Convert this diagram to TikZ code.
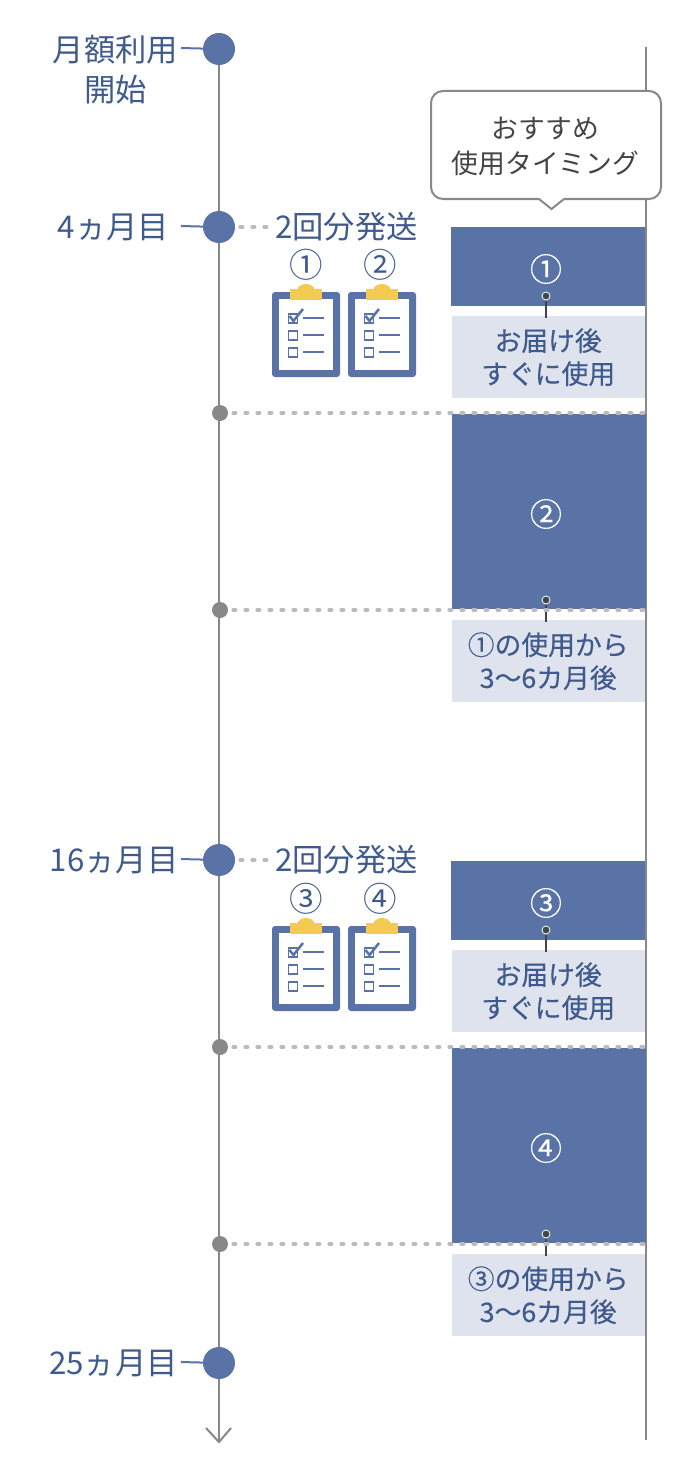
\documentclass[tikz,border=0pt]{standalone}
\usepackage{fontspec}
\setmainfont{Noto Sans CJK JP}
\newfontfamily\notefont{Noto Sans CJK JP}[FakeBold=0.3]
\definecolor{slateblue}{RGB}{90, 115, 166}
\definecolor{inkblue}{RGB}{63, 90, 140}
\definecolor{paleblue}{RGB}{223, 227, 238}
\definecolor{railgray}{RGB}{136, 136, 136}
\definecolor{dotgray}{RGB}{187, 187, 187}
\definecolor{darkgray}{RGB}{68, 68, 68}
\definecolor{clipyellow}{RGB}{243, 203, 80}
\tikzset{
    rail/.style={draw=railgray, line width=2pt},
    mainevent/.style={circle, fill=slateblue, minimum size=32pt, inner sep=0pt},
    subevent/.style={circle, fill=railgray, minimum size=16pt, inner sep=0pt},
    eventlabel/.style={inner sep=0pt, text=inkblue, align=center, font=\fontsize{31.3}{40}\selectfont},
    eventtick/.style={draw=slateblue, line width=2pt},
    dotline/.style={draw=dotgray, line width=3.5pt, line cap=round, dash pattern=on 2.5pt off 9.5pt},
    useblock/.style={fill=slateblue, inner sep=0pt, minimum width=194pt, anchor=north west},
    notebox/.style={fill=paleblue, inner sep=0pt, minimum width=193pt, minimum height=82pt, anchor=north west, text=inkblue, align=center, font=\notefont\fontsize{26.8}{33}\selectfont},
    usenum/.style={inner sep=0pt, text=white, font=\notefont\fontsize{32}{32}\selectfont},
    boxnum/.style={inner sep=0pt, text=inkblue, font=\fontsize{33.5}{34}\selectfont},
    pindot/.style={circle, fill=darkgray, draw=paleblue, line width=1pt, minimum size=8pt, inner sep=0pt},
    pinline/.style={draw=darkgray, line width=2pt},
    tickline/.style={draw=slateblue, line width=1.4pt},
    calloutbox/.style={draw=railgray, fill=white, line width=2pt, rounded corners=12pt, inner sep=0pt, minimum width=230pt, minimum height=108pt}
}
\begin{document}
\begin{tikzpicture}[x=1pt, y=-1pt]
    \useasboundingbox (0,0) rectangle (690,1474);
    % Rails
    \coordinate (railtop) at (646,47);
    \coordinate (railend) at (646,1440);
    \coordinate (timetop) at (219,49);
    \coordinate (timeend) at (219,1442);
    \draw[rail] (railtop) -- (railend);
    \draw[rail] (timetop) -- (timeend);
    \draw[rail] (206,1428) -- (timeend) -- (231,1428);
    % Main events
    \node[mainevent] (start) at (219,49) {};
    \node[mainevent] (month4) at (219,227) {};
    \node[mainevent] (month16) at (219,860) {};
    \node[mainevent] (month25) at (219,1363) {};
    \node[eventlabel] (startlabel) at (115.5,69.5) {月額利用\\開始};
    \node[eventlabel] (month4label) at (113.5,227) {4ヵ月目};
    \node[eventlabel] (month16label) at (114,860) {16ヵ月目};
    \node[eventlabel] (month25label) at (113.5,1363) {25ヵ月目};
    \coordinate (starttick) at (181,48);
    \coordinate (month4tick) at (181,226);
    \coordinate (month16tick) at (181,859);
    \coordinate (month25tick) at (181,1362);
    \draw[eventtick] (starttick) -- (start);
    \draw[eventtick] (month4tick) -- (month4);
    \draw[eventtick] (month16tick) -- (month16);
    \draw[eventtick] (month25tick) -- (month25);
    % Shipments
    \node[eventlabel] (shipa) at (346.5,227) {2回分発送};
    \node[eventlabel] (shipb) at (346.5,860) {2回分発送};
    \coordinate (shipaend) at (270,227);
    \coordinate (shipbend) at (270,860);
    \draw[dotline] (month4.east) ++(5,0) -- (shipaend);
    \draw[dotline] (month16.east) ++(5,0) -- (shipbend);
    \node[boxnum] (boxa) at (306,265) {①};
    \node[boxnum] (boxb) at (380,265) {②};
    \node[boxnum] (boxc) at (306,899) {③};
    \node[boxnum] (boxd) at (380,899) {④};
    % Clipboards
    \foreach \cx/\cy in {272/292, 348/292, 272/926, 348/926} {
        \begin{scope}[shift={(\cx,\cy)}]
            \fill[slateblue, rounded corners=3pt] (0,0) rectangle (68,85);
            \fill[white] (7,7) rectangle (61,78);
            \fill[clipyellow] (18,-3) rectangle (50,8);
            \fill[clipyellow] (25,-2) .. controls (27,-10) and (41,-10) .. (43,-2);
            \draw[slateblue, line width=1.8pt] (16.5,22) rectangle (25.5,31);
            \draw[slateblue, line width=1.8pt] (16.5,39) rectangle (25.5,48);
            \draw[slateblue, line width=1.8pt] (16.5,56) rectangle (25.5,65);
            \draw[slateblue, line width=2.5pt] (17.5,24) -- (21.5,29) -- (31,17);
            \draw[tickline] (31,26) -- (52,26);
            \draw[tickline] (31,43) -- (52,43);
            \draw[tickline] (31,60) -- (52,60);
        \end{scope}
    }
    % Use blocks
    \node[useblock, minimum height=79pt] (blocka) at (451,227) {};
    \node[useblock, minimum height=195pt] (blockb) at (451.5,414) {};
    \node[useblock, minimum height=79pt] (blockc) at (451,861) {};
    \node[useblock, minimum height=195pt] (blockd) at (451.5,1048) {};
    \node[usenum] (numa) at (546,269) {①};
    \node[usenum] (numb) at (546,514) {②};
    \node[usenum] (numc) at (546,903) {③};
    \node[usenum] (numd) at (546,1148) {④};
    \node[notebox] (notea) at (451.5,316) {\rule{0pt}{5pt}お届け後\\すぐに使用};
    \node[notebox] (noteb) at (451.5,620) {\rule{0pt}{5pt}①の使用から\\3〜6カ月後};
    \node[notebox] (notec) at (451.5,950) {\rule{0pt}{5pt}お届け後\\すぐに使用};
    \node[notebox] (noted) at (451.5,1254) {\rule{0pt}{5pt}③の使用から\\3〜6カ月後};
    % Pins
    \node[pindot] (pina) at (546,296) {};
    \node[pindot] (pinb) at (546,600) {};
    \node[pindot] (pinc) at (546,930) {};
    \node[pindot] (pind) at (546,1234) {};
    \coordinate (pinaend) at (546,318);
    \coordinate (pinbend) at (546,622);
    \coordinate (pincend) at (546,952);
    \coordinate (pindend) at (546,1256);
    \draw[pinline] (pina) -- (pinaend);
    \draw[pinline] (pinb) -- (pinbend);
    \draw[pinline] (pinc) -- (pincend);
    \draw[pinline] (pind) -- (pindend);
    % Sub events
    \node[subevent] (suba) at (220,413) {};
    \node[subevent] (subb) at (220,610) {};
    \node[subevent] (subc) at (220,1047) {};
    \node[subevent] (subd) at (220,1244) {};
    \coordinate (subaend) at (645,413);
    \coordinate (subbend) at (645,610);
    \coordinate (subcend) at (645,1047);
    \coordinate (subdend) at (645,1244);
    \draw[dotline] (suba.east) ++(5,0) -- (subaend);
    \draw[dotline] (subb.east) ++(5,0) -- (subbend);
    \draw[dotline] (subc.east) ++(5,0) -- (subcend);
    \draw[dotline] (subd.east) ++(5,0) -- (subdend);
    % Callout
    \node[calloutbox] (callout) at (546,145) {};
    \fill[white] (540,197) -- (564,197) -- (564,200) -- (551.5,209) -- (539,200) -- cycle;
    \draw[draw=railgray, line width=2pt] (564,199) -- (551.5,209) -- (539,199);
    \node[inner sep=0pt, align=center, text=darkgray, font=\fontsize{26.8}{35}\selectfont] (calloutlabel) at (545.5,146) {おすすめ\\使用タイミング};
\end{tikzpicture}
\end{document}
